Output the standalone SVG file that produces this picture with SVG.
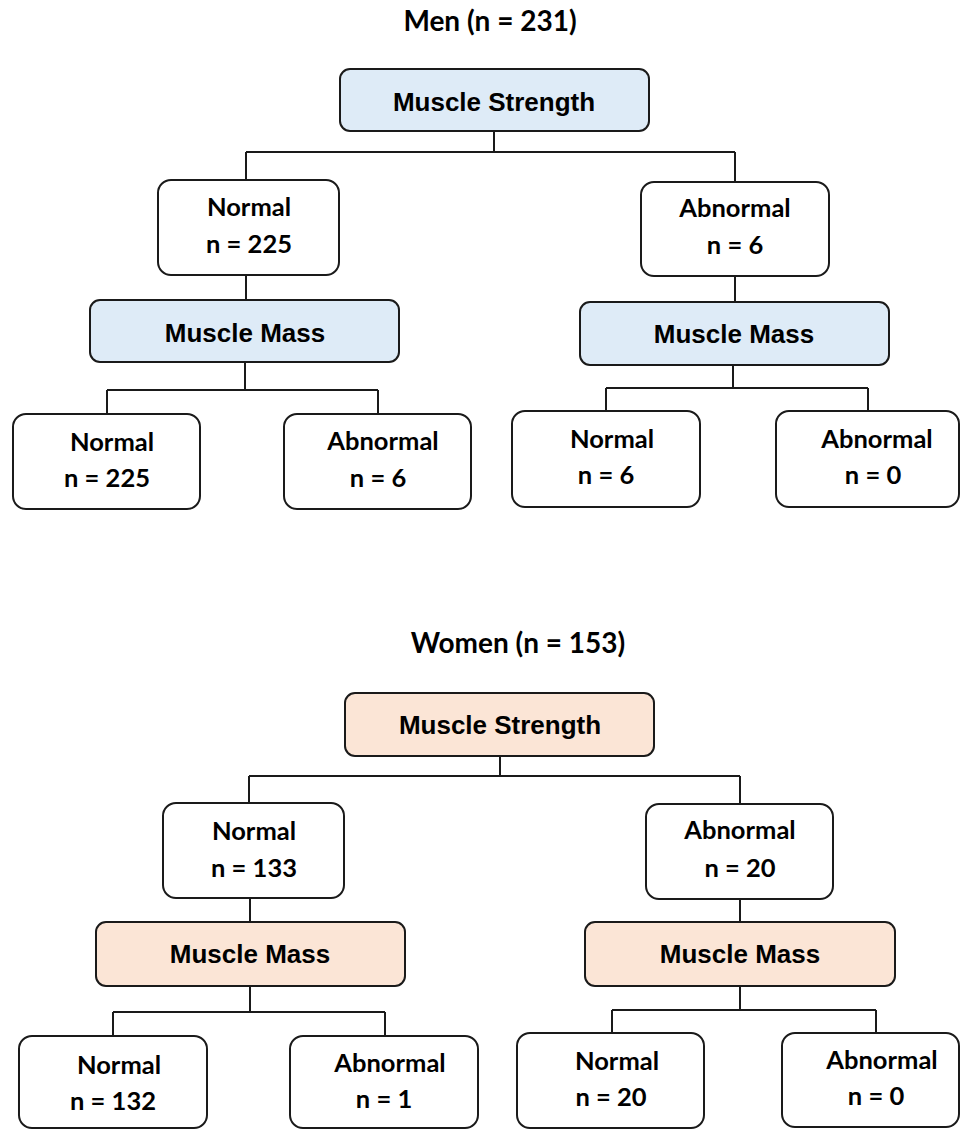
<svg xmlns="http://www.w3.org/2000/svg" width="961" height="1130" viewBox="0 0 961 1130">
<style>
.bg{fill:#ffffff}
.box{fill:#ffffff;stroke:#1a1a1a;stroke-width:2}
.blue{fill:#deebf7;stroke:#1a1a1a;stroke-width:2}
.peach{fill:#fbe5d6;stroke:#1a1a1a;stroke-width:2}
.ln{fill:none;stroke:#1a1a1a;stroke-width:2}
.c{font-family:Lato,"Open Sans","Liberation Sans",sans-serif;font-weight:700;font-size:25.5px;fill:#000;text-anchor:middle}
.t{font-family:Lato,"Open Sans","Liberation Sans",sans-serif;font-weight:700;font-size:28px;fill:#000;text-anchor:middle}
.a{font-family:"Liberation Sans",Arial,sans-serif;font-weight:700;font-size:26px;fill:#000;text-anchor:middle}
</style>
<rect class="bg" x="0" y="0" width="961" height="1130"/>
<g id="connectors">
<path class="ln" d="M494,131V152M246,152H735M246,152V180M735,152V182"/>
<path class="ln" d="M246,275V300M735,276V302"/>
<path class="ln" d="M245,362V390M107,390H378M107,390V414M378,390V414"/>
<path class="ln" d="M733,365V388M606,388H868M606,388V411M868,388V411"/>
<path class="ln" d="M500,756V776M249,776H740M249,776V803M740,776V804"/>
<path class="ln" d="M250,898V922M740,899V922"/>
<path class="ln" d="M250,986V1012M113,1012H385M113,1012V1036M385,1012V1036"/>
<path class="ln" d="M740,986V1010M612,1010H876M612,1010V1033M876,1010V1033"/>
</g>
<g id="title-men"><text class="t" x="490" y="31">Men (n = 231)</text></g>
<g id="men-strength"><rect class="blue" x="340" y="69" width="309" height="62" rx="10"/><text class="a" x="494" y="111">Muscle Strength</text></g>
<g id="men-s-normal"><rect class="box" x="158" y="180" width="181" height="95" rx="13"/><text class="c" x="249" y="216">Normal</text><text class="c" x="249" y="253">n = 225</text></g>
<g id="men-s-abnormal"><rect class="box" x="641" y="182" width="188" height="94" rx="13"/><text class="c" x="735" y="217">Abnormal</text><text class="c" x="735" y="254">n = 6</text></g>
<g id="men-mass-left"><rect class="blue" x="90" y="300" width="309" height="62" rx="10"/><text class="a" x="245" y="342">Muscle Mass</text></g>
<g id="men-mass-right"><rect class="blue" x="580" y="302" width="309" height="63" rx="10"/><text class="a" x="734" y="343">Muscle Mass</text></g>
<g id="men-nn"><rect class="box" x="13" y="414" width="187" height="95" rx="13"/><text class="c" x="112" y="451">Normal</text><text class="c" x="107" y="487">n = 225</text></g>
<g id="men-na"><rect class="box" x="284" y="414" width="187" height="95" rx="13"/><text class="c" x="383" y="450">Abnormal</text><text class="c" x="378" y="487">n = 6</text></g>
<g id="men-an"><rect class="box" x="512" y="411" width="188" height="96" rx="13"/><text class="c" x="612" y="448">Normal</text><text class="c" x="606" y="484">n = 6</text></g>
<g id="men-aa"><rect class="box" x="776" y="411" width="183" height="96" rx="13"/><text class="c" x="877" y="448">Abnormal</text><text class="c" x="873" y="484">n = 0</text></g>
<g id="title-women"><text class="t" x="518" y="653">Women (n = 153)</text></g>
<g id="women-strength"><rect class="peach" x="345" y="693" width="309" height="63" rx="10"/><text class="a" x="500" y="734">Muscle Strength</text></g>
<g id="women-s-normal"><rect class="box" x="163" y="803" width="181" height="95" rx="13"/><text class="c" x="254" y="840">Normal</text><text class="c" x="254" y="877">n = 133</text></g>
<g id="women-s-abnormal"><rect class="box" x="646" y="804" width="187" height="95" rx="13"/><text class="c" x="740" y="839">Abnormal</text><text class="c" x="740" y="877">n = 20</text></g>
<g id="women-mass-left"><rect class="peach" x="96" y="922" width="309" height="64" rx="10"/><text class="a" x="250" y="963">Muscle Mass</text></g>
<g id="women-mass-right"><rect class="peach" x="585" y="922" width="310" height="64" rx="10"/><text class="a" x="740" y="963">Muscle Mass</text></g>
<g id="women-nn"><rect class="box" x="19" y="1036" width="188" height="92" rx="13"/><text class="c" x="119" y="1074">Normal</text><text class="c" x="113" y="1110">n = 132</text></g>
<g id="women-na"><rect class="box" x="290" y="1036" width="188" height="92" rx="13"/><text class="c" x="390" y="1072">Abnormal</text><text class="c" x="384" y="1108">n = 1</text></g>
<g id="women-an"><rect class="box" x="517" y="1033" width="187" height="95" rx="13"/><text class="c" x="617" y="1070">Normal</text><text class="c" x="611" y="1106">n = 20</text></g>
<g id="women-aa"><rect class="box" x="782" y="1033" width="177" height="94" rx="13"/><text class="c" x="882" y="1069">Abnormal</text><text class="c" x="876" y="1105">n = 0</text></g>
</svg>
